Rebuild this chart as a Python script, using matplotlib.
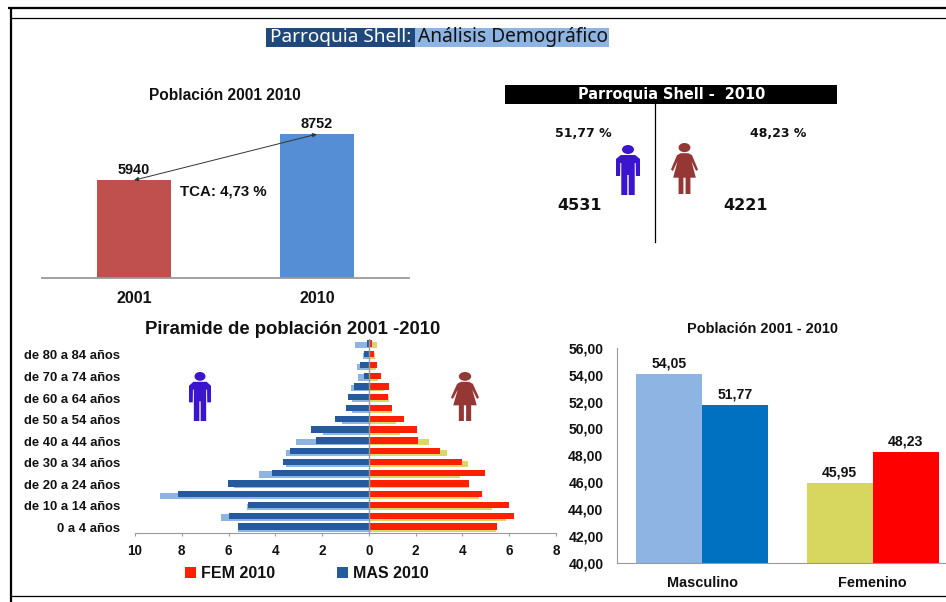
import matplotlib
matplotlib.use("Agg")
import matplotlib.pyplot as plt
from matplotlib.patches import Rectangle, Polygon, Ellipse
from matplotlib.ticker import FuncFormatter

W, H = 946, 602
plt.rcParams['font.family'] = ['Liberation Sans', 'DejaVu Sans']

# ---- data ----
years = ['2001', '2010']
pop_totals = [5940, 8752]
sex_labels = ['Masculino', 'Femenino']
pct_2001 = [54.05, 45.95]
pct_2010 = [51.77, 48.23]
men_2010_total, women_2010_total = 4531, 4221
age_labels = ['0 a 4 años', '', 'de 10 a 14 años', '', 'de 20 a 24 años', '', 'de 30 a 34 años', '',
              'de 40 a 44 años', '', 'de 50 a 54 años', '', 'de 60 a 64 años', '', 'de 70 a 74 años', '',
              'de 80 a 84 años', '']
fem_2010 = [5.47, 6.20, 6.00, 4.83, 4.26, 4.95, 3.97, 3.02, 2.12, 2.06, 1.49, 0.98, 0.80, 0.87, 0.50, 0.36, 0.21, 0.14]
fem_2001 = [5.44, 5.86, 5.27, 4.70, 4.30, 3.90, 4.23, 3.36, 2.58, 1.34, 1.17, 1.00, 0.84, 0.65, 0.40, 0.31, 0.26, 0.33]
mas_2010 = [5.60, 6.00, 5.17, 8.17, 6.03, 4.13, 3.66, 3.36, 2.26, 2.48, 1.44, 0.97, 0.88, 0.64, 0.20, 0.36, 0.21, 0.10]
mas_2001 = [5.61, 6.34, 5.23, 8.93, 5.76, 4.71, 3.53, 3.53, 3.13, 1.96, 1.14, 0.71, 0.71, 0.78, 0.47, 0.50, 0.27, 0.61]

# ---- colours ----
INK = '#111111'
GREY = '#9a9a9a'
MAN = '#3A14CF'
WOMAN = '#953735'

fig = plt.figure(figsize=(W / 100, H / 100), dpi=100, facecolor='white')


def axes_px(left, top, right, bottom, **kw):
    return fig.add_axes([left / W, 1 - bottom / H, (right - left) / W, (bottom - top) / H], **kw)


def fs(px):
    return px * 0.72


# ---- top-left bars ----
ax1 = axes_px(42, 110, 409, 277.5)
ax1.bar([0, 1], pop_totals, width=74 / 183, color=['#C0504D', '#558ED5'])
ax1.set_xlim(-0.503, 1.503)
ax1.set_ylim(0, 167.5 / (97.3 / 5940))
ax1.set_xticks([0, 1], years, fontsize=fs(16), fontweight='bold', color=INK)
ax1.set_yticks([])
ax1.tick_params(axis='x', length=0, pad=10)
for s in ('top', 'left', 'right'):
    ax1.spines[s].set_visible(False)
ax1.spines['bottom'].set_color(GREY)
ax1.spines['bottom'].set_linewidth(1.3)
for x, v in zip([0, 1], pop_totals):
    ax1.annotate(str(v), (x, v), xytext=(0, 2.5), textcoords='offset points', ha='center', va='bottom',
                 fontsize=fs(14.5), fontweight='bold', color=INK)
ax1.annotate('', xy=(1, pop_totals[1]), xytext=(0, pop_totals[0]),
             arrowprops=dict(arrowstyle='<|-|>,head_length=0.25,head_width=0.12', color='#333333', lw=0.7,
                             shrinkA=0, shrinkB=0))

# ---- pyramid ----
ax2 = axes_px(135, 338.8, 556, 532.7)
rows = list(range(len(age_labels)))
ax2.barh([r - 0.10 for r in rows], [-v for v in mas_2001], height=0.58, color='#8EB4E3')
ax2.barh([r - 0.10 for r in rows], fem_2001, height=0.58, color='#DBD764')
ax2.barh([r + 0.07 for r in rows], [-v for v in mas_2010], height=0.58, color='#255A9E', label='MAS 2010')
ax2.barh([r + 0.07 for r in rows], fem_2010, height=0.58, color='#FF2000', label='FEM 2010')
ax2.set_xlim(-10, 8)
ax2.set_ylim(-0.5, 17.5)
ax2.set_xticks(range(-10, 9, 2))
ax2.xaxis.set_major_formatter(FuncFormatter(lambda v, _: f'{abs(int(v))}'))
ax2.set_yticks(rows, age_labels, fontsize=fs(13), fontweight='bold', color=INK)
ax2.tick_params(axis='y', length=0, pad=10.5)
ax2.tick_params(axis='x', length=2, color=GREY, labelsize=fs(13.5), labelcolor=INK, pad=6)
for t in ax2.get_xticklabels():
    t.set_fontweight('bold')
for s in ('top', 'left', 'right'):
    ax2.spines[s].set_visible(False)
ax2.spines['bottom'].set_color(GREY)
ax2.axvline(0, color=GREY, lw=1)
handles, labels = ax2.get_legend_handles_labels()
ax2.legend(handles[::-1], labels[::-1], ncol=2, loc='center left', bbox_to_anchor=((185 - 135) / 421, -40.5 / 193.9),
           frameon=False, handlelength=0.68, handleheight=0.68, handletextpad=0.3, columnspacing=3.9,
           prop=dict(weight='bold', size=fs(16)), labelcolor=INK, borderpad=0, borderaxespad=0)

# ---- bottom-right columns ----
ax3 = axes_px(617.3, 347.7, 946, 563)
bw = 66 / 170.5
ax3.bar([-bw / 2, 1 - bw / 2], pct_2001, width=bw, color=['#8EB4E3', '#D7D65F'])
ax3.bar([bw / 2, 1 + bw / 2], pct_2010, width=bw, color=['#0070C0', '#FF0000'])
ax3.set_xlim(-0.497, 1.431)
ax3.set_ylim(40, 56)
ax3.set_yticks(range(40, 57, 2), [f'{v},00' for v in range(40, 57, 2)], fontsize=fs(14), fontweight='bold', color=INK)
ax3.set_xticks([0, 1], sex_labels, fontsize=fs(14.5), fontweight='bold', color=INK)
ax3.tick_params(length=0)
ax3.tick_params(axis='y', pad=10)
ax3.tick_params(axis='x', pad=9.5)
for s in ('top', 'right'):
    ax3.spines[s].set_visible(False)
ax3.spines['left'].set_color(GREY)
ax3.spines['bottom'].set_color(GREY)
for xs, vals in (([-bw / 2, 1 - bw / 2], pct_2001), ([bw / 2, 1 + bw / 2], pct_2010)):
    for x, v in zip(xs, vals):
        ax3.annotate(f'{v:.2f}'.replace('.', ','), (x, v), xytext=(0, 2.5), textcoords='offset points',
                     ha='center', va='bottom', fontsize=fs(14), fontweight='bold', color=INK)

# ---- overlay in pixel coordinates: frame, headings, pictograms ----
ov = fig.add_axes([0, 0, 1, 1], zorder=5)
ov.set_xlim(0, W)
ov.set_ylim(H, 0)
ov.axis('off')
ov.patch.set_alpha(0)

ov.plot([8, W], [8, 8], color='black', lw=1.6, solid_capstyle='butt')
ov.plot([10, W], [18.3, 18.3], color='black', lw=0.9, solid_capstyle='butt')
ov.plot([11, 11], [8, 602], color='black', lw=1.6, solid_capstyle='butt')
ov.plot([11, W], [596, 596], color='black', lw=0.9, solid_capstyle='butt')

ov.add_patch(Rectangle((266, 27.5), 149, 19, color='#1F497D', lw=0))
ov.add_patch(Rectangle((415, 27.5), 194, 19, color='#8EB4E3', lw=0))
ov.text(270, 37, 'Parroquia Shell:', color='white', fontsize=fs(19), va='center', ha='left', family='Noto Sans')
ov.text(418, 37, 'Análisis Demográfico', color=INK, fontsize=fs(19.2), va='center', ha='left', family='Noto Sans')

ov.text(225, 96, 'Población 2001 2010', ha='center', va='center', fontsize=fs(15.5), fontweight='bold', color=INK)
ov.text(223, 191, 'TCA: 4,73 %', ha='center', va='center', fontsize=fs(15), fontweight='bold', color=INK)
ov.text(293, 330, 'Piramide de población 2001 -2010', ha='center', va='center', fontsize=fs(18.5), fontweight='bold', color=INK)
ov.text(762, 329, 'Población 2001 - 2010', ha='center', va='center', fontsize=fs(14.5), fontweight='bold', color=INK)

ov.add_patch(Rectangle((505, 85), 332, 19, color='black', lw=0))
ov.text(671.5, 95, 'Parroquia Shell -  2010', color='white', ha='center', va='center', fontsize=fs(14.5),
        fontweight='bold', family='DejaVu Sans')
ov.plot([655.3, 655.3], [104, 242], color='black', lw=0.9)
ov.text(583.5, 133.5, '51,77 %', ha='center', va='center', fontsize=fs(12.5), fontweight='bold', family='DejaVu Sans', color=INK)
ov.text(778.5, 133.5, '48,23 %', ha='center', va='center', fontsize=fs(12.5), fontweight='bold', family='DejaVu Sans', color=INK)
ov.text(580, 205, str(men_2010_total), ha='center', va='center', fontsize=fs(16), fontweight='bold', family='DejaVu Sans', color=INK)
ov.text(746, 205, str(women_2010_total), ha='center', va='center', fontsize=fs(16), fontweight='bold', family='DejaVu Sans', color=INK)

MAN_BODY = [(0.2, 0.2), (0.8, 0.2), (1, 0.28), (1, 0.62), (0.83, 0.62), (0.82, 0.36), (0.78, 0.36), (0.78, 1),
            (0.53, 1), (0.53, 0.6), (0.47, 0.6), (0.47, 1), (0.22, 1), (0.22, 0.36), (0.18, 0.36), (0.17, 0.62),
            (0, 0.62), (0, 0.28)]
WOMAN_BODY = [(0.36, 0.2), (0.64, 0.2), (0.78, 0.24), (1, 0.52), (0.93, 0.55), (0.76, 0.36), (0.92, 0.68), (0.72, 0.68),
              (0.72, 1), (0.54, 1), (0.54, 0.68), (0.46, 0.68), (0.46, 1), (0.28, 1), (0.28, 0.68), (0.08, 0.68),
              (0.24, 0.36), (0.07, 0.55), (0, 0.52), (0.22, 0.24)]


def person(body, color, left, top, right, bottom, head_w):
    w, h = right - left, bottom - top
    pts = [(left + x * w, top + y * h) for x, y in body]
    ov.add_patch(Polygon(pts, closed=True, facecolor=color, edgecolor='none', joinstyle='round'))
    ov.add_patch(Ellipse((left + 0.5 * w, top + 0.09 * h), head_w * w, 0.18 * h, facecolor=color, edgecolor='none'))


person(MAN_BODY, MAN, 616, 145, 640, 195, 0.5)
person(WOMAN_BODY, WOMAN, 671, 143, 698, 194, 0.44)
person(MAN_BODY, MAN, 189, 372, 211, 421, 0.5)
person(WOMAN_BODY, WOMAN, 451, 372, 479, 421, 0.44)

fig.savefig('out.png', dpi=100)
